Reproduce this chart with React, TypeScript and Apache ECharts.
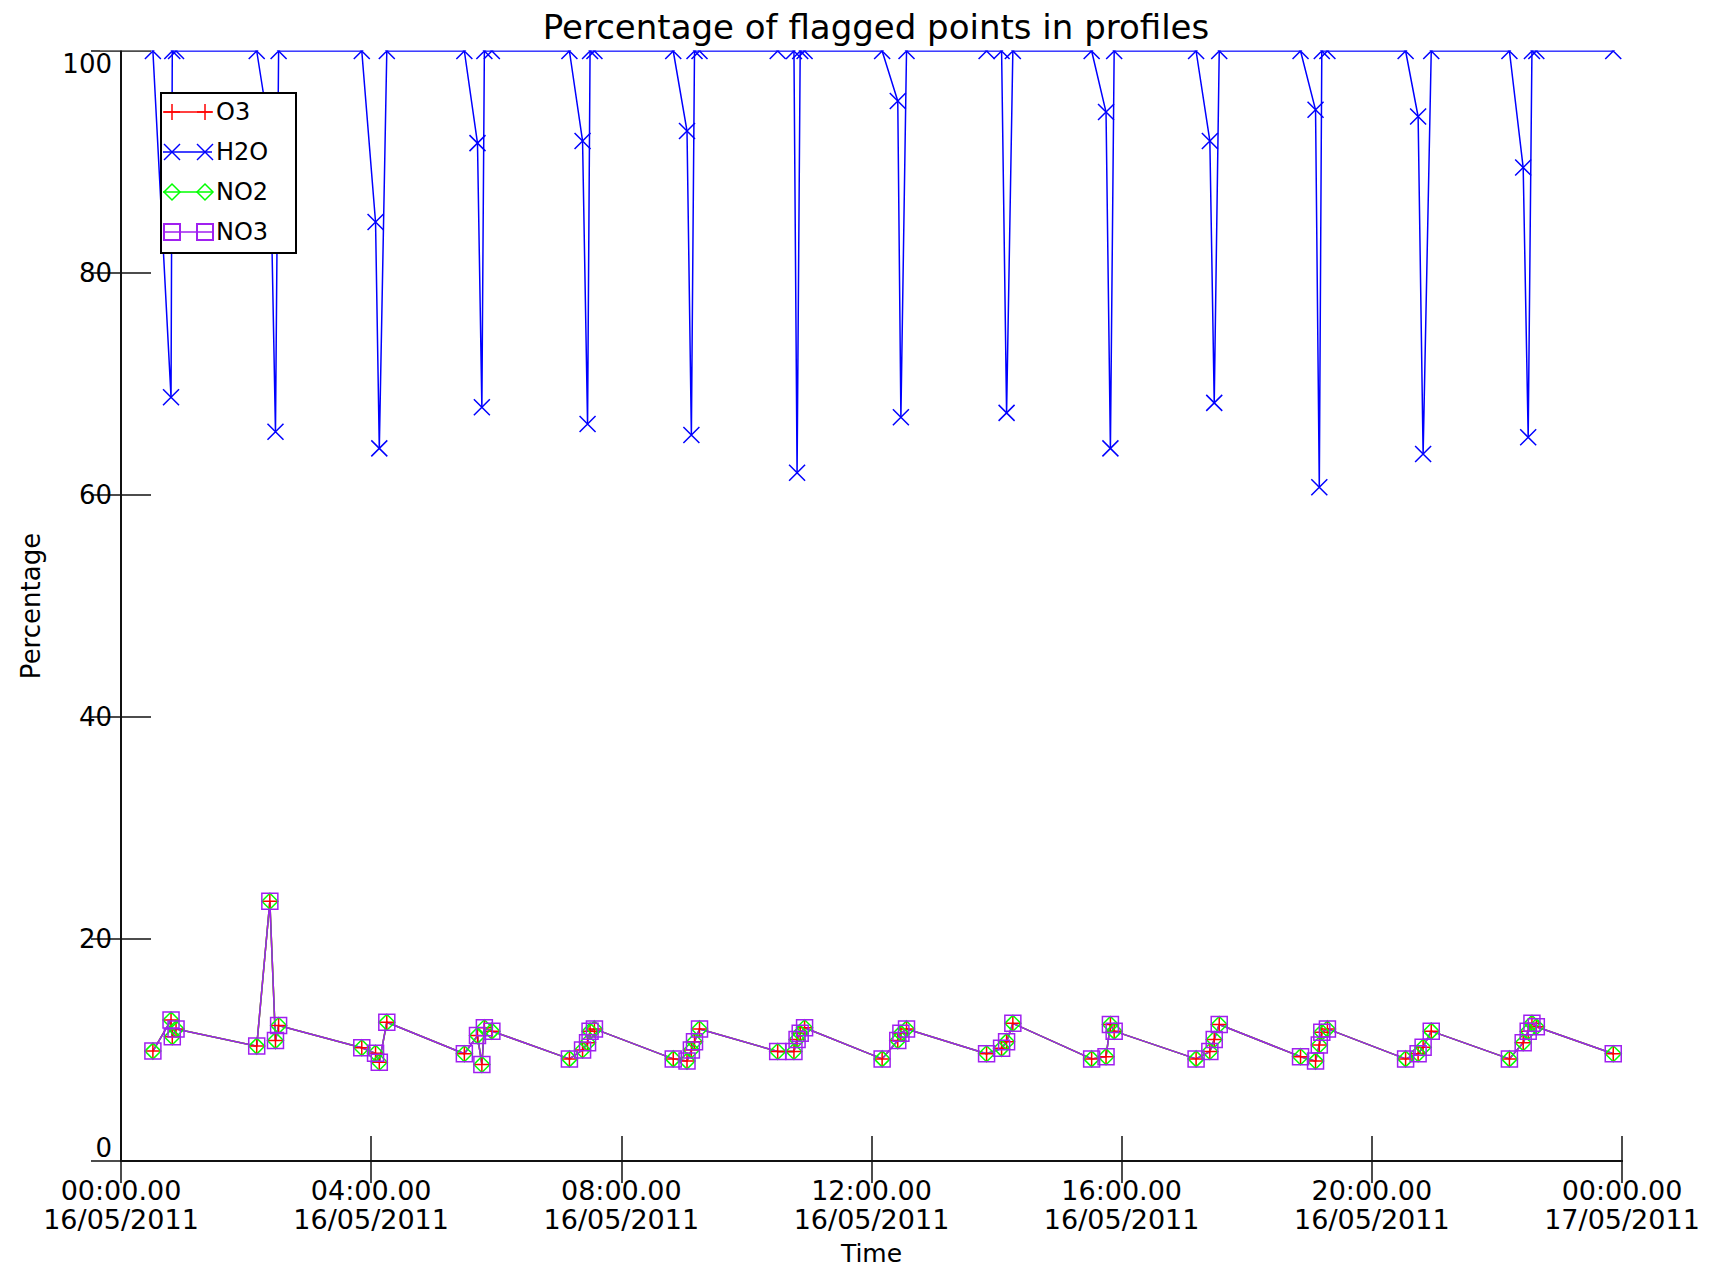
import React, { useEffect, useRef } from "react";
import * as echarts from "echarts";

// Profile times, hours after 00:00 on 16/05/2011
const profileHours = [
  0.51, 0.8, 0.82, 0.88,
  2.17, 2.38, 2.47, 2.52,
  3.85, 4.07, 4.13, 4.25,
  5.49, 5.7, 5.77, 5.81, 5.93,
  7.17, 7.38, 7.46, 7.5, 7.57,
  8.83, 9.05, 9.12, 9.17, 9.25,
  10.5, 10.76, 10.81, 10.86, 10.93,
  12.17, 12.42, 12.47, 12.56,
  13.84, 14.08, 14.16, 14.26,
  15.52, 15.75, 15.82, 15.88,
  17.19, 17.41, 17.48, 17.56,
  18.86, 19.1, 19.16, 19.2, 19.29,
  20.54, 20.74, 20.82, 20.95,
  22.2, 22.42, 22.5, 22.56, 22.63,
  23.86,
];

const h2oValues = [
  100, 68.8, 100, 100,
  100, 92.5, 65.7, 100,
  100, 84.6, 64.2, 100,
  100, 91.7, 67.9, 100, 100,
  100, 91.9, 66.4, 100, 100,
  100, 92.8, 65.4, 100, 100,
  100, 100, 62.0, 100, 100,
  100, 95.5, 67.0, 100,
  100, 100, 67.4, 100,
  100, 94.5, 64.2, 100,
  100, 91.9, 68.3, 100,
  100, 94.7, 60.7, 100, 100,
  100, 94.1, 63.7, 100,
  100, 89.5, 65.2, 100, 100,
  100,
];

// O3, NO2 and NO3 coincide in the picture
const o3Values = [
  9.9, 12.7, 11.2, 11.9,
  10.35, 23.4, 10.85, 12.2,
  10.2, 9.7, 8.9, 12.5,
  9.66, 11.3, 8.7, 12.0, 11.7,
  9.2, 10.0, 10.65, 11.7, 11.9,
  9.2, 9.0, 10.0, 10.75, 11.9,
  9.86, 9.86, 10.95, 11.5, 12.0,
  9.2, 10.85, 11.5, 11.9,
  9.66, 10.15, 10.75, 12.4,
  9.2, 9.4, 12.3, 11.7,
  9.2, 9.86, 10.95, 12.3,
  9.4, 9.0, 10.45, 11.6, 11.9,
  9.2, 9.66, 10.25, 11.7,
  9.2, 10.65, 11.7, 12.4, 12.1,
  9.66,
];
const no2Values = o3Values;
const no3Values = o3Values;

const xTickHours = [0, 4, 8, 12, 16, 20, 24];
const yTicks = [0, 20, 40, 60, 80, 100];

const seriesNames = ["O3", "H2O", "NO2", "NO3"];
const seriesColors = ["#ff0000", "#0000ff", "#00ff00", "#a020f0"];

const FONT = "DejaVu Sans";

const SYM_X = "path://M0,0L16,16M16,0L0,16";
const SYM_PLUS = "path://M8,0L8,16M0,8L16,8";
const SYM_DIAMOND = "path://M8,0L16,8L8,16L0,8Z";
const SYM_SQUARE = "path://M0,0L16,0L16,16L0,16Z";

function pairs(values: number[]) {
  return profileHours.map((t, i) => [t, values[i]]);
}

function makeSeries(name: string, values: number[], color: string, symbol: string) {
  return {
    name,
    type: "line",
    data: pairs(values),
    symbol,
    symbolSize: 16,
    showAllSymbol: true,
    lineStyle: { color, width: 1.5 },
    itemStyle: { color: "none", borderColor: color, borderWidth: 1.5 },
    emphasis: { disabled: true },
    silent: true,
  };
}

function legendGraphics() {
  const els: any[] = [];
  // mask hiding the parts of markers that lie above the plot frame
  els.push({
    type: "rect",
    shape: { x: 100, y: 36, width: 1540, height: 14.2 },
    style: { fill: "#ffffff" },
    z: 50,
  });
  const boxX = 161, boxY = 93, boxW = 135, boxH = 160;
  els.push({
    type: "rect",
    shape: { x: boxX, y: boxY, width: boxW, height: boxH },
    style: { fill: "#ffffff", stroke: "#000000", lineWidth: 2 },
    z: 100,
  });
  const rows = [112, 152, 192, 232];
  const mx = [172, 205];
  const h = 8;
  rows.forEach((y, i) => {
    const c = seriesColors[i];
    els.push({ type: "line", shape: { x1: 163, y1: y, x2: 212, y2: y }, style: { stroke: c, lineWidth: 1.5 }, z: 101 });
    mx.forEach((x) => {
      if (i === 0) {
        els.push({ type: "line", shape: { x1: x, y1: y - h, x2: x, y2: y + h }, style: { stroke: c, lineWidth: 1.5 }, z: 102 });
        els.push({ type: "line", shape: { x1: x - h, y1: y, x2: x + h, y2: y }, style: { stroke: c, lineWidth: 1.5 }, z: 102 });
      } else if (i === 1) {
        els.push({ type: "line", shape: { x1: x - h, y1: y - h, x2: x + h, y2: y + h }, style: { stroke: c, lineWidth: 1.5 }, z: 102 });
        els.push({ type: "line", shape: { x1: x - h, y1: y + h, x2: x + h, y2: y - h }, style: { stroke: c, lineWidth: 1.5 }, z: 102 });
      } else if (i === 2) {
        els.push({ type: "polygon", shape: { points: [[x, y - h], [x + h, y], [x, y + h], [x - h, y]] }, style: { fill: "none", stroke: c, lineWidth: 1.5 }, z: 102 });
      } else {
        els.push({ type: "rect", shape: { x: x - h, y: y - h, width: 2 * h, height: 2 * h }, style: { fill: "none", stroke: c, lineWidth: 2 }, z: 102 });
      }
    });
    els.push({
      type: "text",
      x: 216,
      y: y,
      style: { text: seriesNames[i], fill: "#000", font: `24px '${FONT}'`, verticalAlign: "middle", align: "left" },
      z: 103,
    });
  });
  return els;
}

export default function App() {
  const ref = useRef<HTMLDivElement>(null);
  useEffect(() => {
    if (!ref.current) return;
    const chart = echarts.init(ref.current, null, { renderer: "svg" });
    const axisLine = { show: true, lineStyle: { color: "#111", width: 2 } };
    const option: any = {
      animation: false,
      backgroundColor: "#ffffff",
      textStyle: { fontFamily: FONT },
      title: {
        text: "Percentage of flagged points in profiles",
        left: 871,
        top: 5,
        textAlign: "center",
        z: 60,
        textStyle: { fontFamily: FONT, fontSize: 34, fontWeight: "normal", color: "#000" },
      },
      grid: { left: 121, right: 93, top: 51, bottom: 111, containLabel: false },
      xAxis: [
        {
          type: "value",
          min: 0,
          max: 24,
          interval: 4,
          position: "bottom",
          name: "Time",
          nameLocation: "middle",
          nameGap: 80,
          nameTextStyle: { fontFamily: FONT, fontSize: 25, color: "#000" },
          axisLine,
          axisTick: { show: true, inside: true, length: 25, lineStyle: { color: "#111", width: 1.5 } },
          splitLine: { show: false },
          axisLabel: {
            margin: 15,
            fontFamily: FONT,
            fontSize: 27,
            lineHeight: 29,
            color: "#000",
            formatter: (v: number) => {
              const idx = xTickHours.indexOf(v);
              const hh = String(v % 24).padStart(2, "0");
              const day = idx === xTickHours.length - 1 ? "17" : "16";
              return `${hh}:00.00\n${day}/05/2011`;
            },
          },
        },
        {
          type: "value",
          min: 0,
          max: 24,
          interval: 4,
          position: "top",
          axisLine,
          axisTick: { show: true, inside: true, length: 22, lineStyle: { color: "#111", width: 1.5 } },
          axisLabel: { show: false },
          splitLine: { show: false },
        },
      ],
      yAxis: [
        {
          type: "value",
          min: yTicks[0],
          max: yTicks[yTicks.length - 1],
          interval: 20,
          position: "left",
          name: "Percentage",
          nameLocation: "middle",
          nameRotate: 90,
          nameGap: 77,
          nameTextStyle: { fontFamily: FONT, fontSize: 26, color: "#000" },
          axisLine,
          axisTick: { show: true, inside: true, length: 30, lineStyle: { color: "#111", width: 1.5 } },
          splitLine: { show: false },
          axisLabel: {
            margin: 9,
            fontFamily: FONT,
            fontSize: 26,
            color: "#000",
            verticalAlignMaxLabel: "top",
            verticalAlignMinLabel: "bottom",
          },
        },
        {
          type: "value",
          min: yTicks[0],
          max: yTicks[yTicks.length - 1],
          interval: 20,
          position: "right",
          axisLine,
          axisTick: { show: true, inside: true, length: 30, lineStyle: { color: "#111", width: 1.5 } },
          axisLabel: { show: false },
          splitLine: { show: false },
        },
      ],
      series: [
        makeSeries("O3", o3Values, seriesColors[0], SYM_PLUS),
        makeSeries("H2O", h2oValues, seriesColors[1], SYM_X),
        makeSeries("NO2", no2Values, seriesColors[2], SYM_DIAMOND),
        makeSeries("NO3", no3Values, seriesColors[3], SYM_SQUARE),
      ],
      graphic: legendGraphics(),
    };
    chart.setOption(option);
    return () => chart.dispose();
  }, []);
  return (
    <div
      ref={ref}
      style={{ position: "absolute", left: 0, top: 0, width: 1715, height: 1272, background: "#fff" }}
    />
  );
}
